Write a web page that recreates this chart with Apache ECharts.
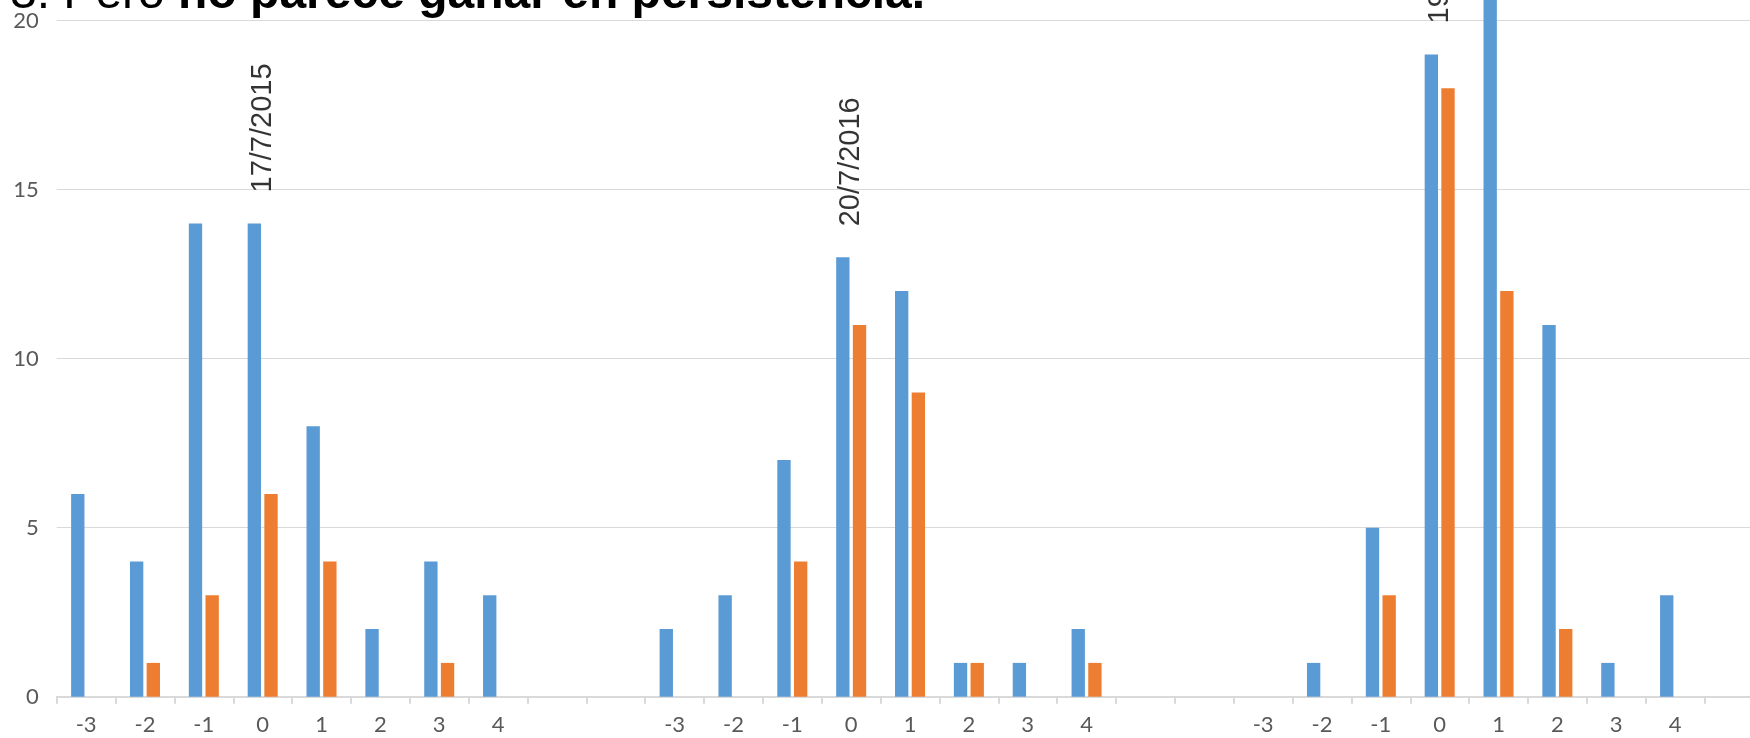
<!DOCTYPE html>
<html><head><meta charset="utf-8">
<script src="https://cdn.jsdelivr.net/npm/echarts@6/dist/echarts.min.js"></script>
<style>html,body{margin:0;padding:0;background:#fff;overflow:hidden}#c{width:1750px;height:738px}</style>
</head><body><div id="c"></div>
<script>
const categories = ['-3','-2','-1','0','1','2','3','4','','',
                    '-3','-2','-1','0','1','2','3','4','','',
                    '-3','-2','-1','0','1','2','3','4','',''];
const seriesBlue = [6,4,14,14,8,2,4,3,null,null,
                    2,3,7,13,12,1,1,2,null,null,
                    null,1,5,19,23,11,1,3,null,null];
const seriesOrange = [null,1,3,6,4,null,1,null,null,null,
                      null,null,4,11,9,1,null,1,null,null,
                      null,null,3,18,12,2,null,null,null,null];
const annotationIndex = [3, 13, 23];
const annotationText = ['17/7/2015', '20/7/2016', '19/7/2017'];
const titleRegular = '3. Pero ';
const titleBold = 'no parece ganar en persistencia.';

const chart = echarts.init(document.getElementById('c'), null, {renderer: 'canvas'});
const annData = annotationIndex.map((ci, k) => ({value: [ci, seriesBlue[ci]], label: {formatter: annotationText[k]}}));

chart.setOption({
  animation: false,
  title: {
    text: '{a|' + titleRegular + '}{b|' + titleBold + '}',
    left: 10, top: -29, padding: 0,
    textStyle: {
      rich: {
        a: {fontFamily: 'Liberation Sans', fontSize: 48, fontWeight: 'normal', color: '#000'},
        b: {fontFamily: 'Liberation Sans', fontSize: 48, fontWeight: 'bold', color: '#000'}
      }
    }
  },
  grid: {left: 56.7, top: -148.3, width: 30 * 58.85, height: 845, containLabel: false, outerBoundsMode: 'none'},
  xAxis: {
    type: 'category',
    data: categories,
    axisLine: {lineStyle: {color: '#d9d9d9', width: 2}},
    axisTick: {show: true, length: 7, lineStyle: {color: '#d9d9d9', width: 2}},
    axisLabel: {interval: 0, color: '#595959', fontFamily: 'Lato', fontSize: 22, margin: 17}
  },
  yAxis: {
    type: 'value', min: 0, max: 25, interval: 5,
    axisLine: {show: false}, axisTick: {show: false},
    splitLine: {lineStyle: {color: '#d9d9d9', width: 1}},
    axisLabel: {color: '#595959', fontFamily: 'Lato', fontSize: 22, margin: 18}
  },
  series: [
    {name: 'Serie 1', type: 'bar', data: seriesBlue, itemStyle: {color: '#5B9BD5'},
     barGap: '25%', barCategoryGap: '49%', clip: false},
    {name: 'Serie 2', type: 'bar', data: seriesOrange, itemStyle: {color: '#ED7D31'},
     barGap: '25%', barCategoryGap: '49%', clip: false},
    {name: 'Fechas', type: 'scatter', data: annData, symbolSize: 0, silent: true,
     label: {show: true, position: 'top', distance: 31, rotate: 90, align: 'left', verticalAlign: 'middle',
             color: '#000', fontFamily: 'Liberation Sans', fontSize: 29}}
  ]
});
</script></body></html>
